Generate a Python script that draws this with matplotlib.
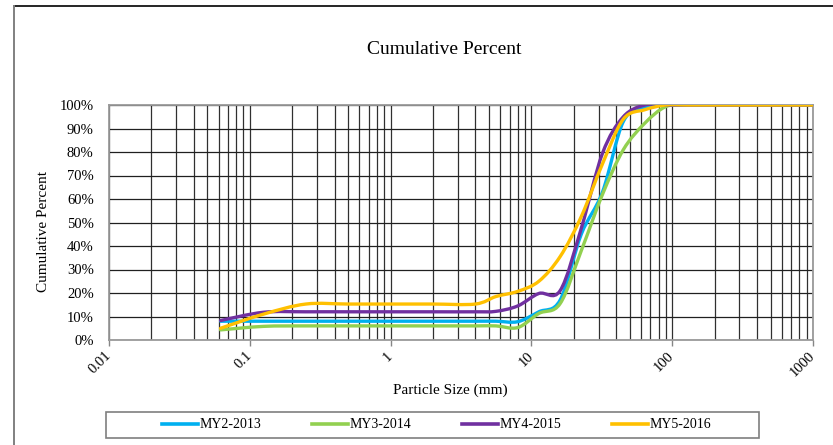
#!/usr/bin/env python3
# -*- coding: utf-8 -*-
"""
Cumulative percent vs particle size (pebble counts)
"""
import numpy as np
import matplotlib
matplotlib.use("Agg")
import matplotlib.pyplot as plt
from matplotlib.path import Path
from matplotlib.patches import PathPatch, Rectangle
from matplotlib.lines import Line2D
from matplotlib.ticker import LogLocator, FixedLocator, NullFormatter

plt.rc('font', family='Liberation Serif')

# particle sizes (mm)
sizes = [0.062, 0.125, 0.25, 0.5, 1, 2, 4, 5.6, 8, 11.3, 16, 22.6, 32, 45, 64,
         90, 128, 180, 256, 362, 512, 1024, 2048]

# cumulative percent
my2_2013 = [8, 8, 8, 8, 8, 8, 8, 8, 7.8, 12, 17, 45, 63, 93, 99,
            100, 100, 100, 100, 100, 100, 100, 100]
my3_2014 = [4.3, 5.8, 6, 6, 6, 6, 6, 6, 5.3, 11.3, 15.5, 38, 62, 81, 92.3,
            99.3, 100, 100, 100, 100, 100, 100, 100]
my4_2015 = [8.3, 11.8, 12, 12, 12, 12, 12, 12.2, 14.5, 19.8, 21, 47.5, 79.5, 95, 100,
            100, 100, 100, 100, 100, 100, 100, 100]
my5_2016 = [5, 11, 15.3, 15.3, 15.3, 15.3, 15.3, 18.5, 20.7, 25, 35.5, 52.5, 75, 94, 98,
            100, 100, 100, 100, 100, 100, 100, 100]

series = [
    ("MY2-2013", my2_2013, "#00B0F0"),
    ("MY3-2014", my3_2014, "#92D050"),
    ("MY4-2015", my4_2015, "#7030A0"),
    ("MY5-2016", my5_2016, "#FFC000"),
]


def smooth_path(x, y):
    """Excel-like smoothed line: cubic Bezier through the points (log-x space)."""
    lx = np.log10(np.asarray(x, float))
    y = np.asarray(y, float)
    P = np.column_stack([lx, y])
    n = len(P)
    verts = [P[0]]
    codes = [Path.MOVETO]
    for i in range(n - 1):
        p0 = P[max(i - 1, 0)]
        p1 = P[i]
        p2 = P[i + 1]
        p3 = P[min(i + 2, n - 1)]
        c1 = p1 + (p2 - p0) / 6.0
        c2 = p2 - (p3 - p1) / 6.0
        verts += [c1, c2, p2]
        codes += [Path.CURVE4] * 3
    verts = np.array(verts)
    verts[:, 0] = 10 ** verts[:, 0]
    return Path(verts, codes)


fig = plt.figure(figsize=(8.33, 4.45), dpi=100)
ax = fig.add_axes([109 / 833, 1 - 340 / 445, (813 - 109) / 833, (340 - 105) / 445])

ax.set_xscale('log')
ax.set_xlim(0.01, 1000)
ax.set_ylim(0, 100)

for name, vals, col in series:
    ax.add_patch(PathPatch(smooth_path(sizes, vals), facecolor='none', edgecolor=col,
                           lw=2.4, capstyle='round', joinstyle='round', zorder=3))

# grid
ax.xaxis.set_minor_locator(LogLocator(base=10, subs=np.arange(2, 10), numticks=10))
ax.xaxis.set_minor_formatter(NullFormatter())
ax.set_xticks([0.01, 0.1, 1, 10, 100, 1000])
ax.set_xticklabels(["0.01", "0.1", "1", "10", "100", "1000"], rotation=45,
                   ha='right', va='center', rotation_mode='anchor')
ax.yaxis.set_major_locator(FixedLocator(np.arange(0, 101, 10)))
ax.set_yticklabels(["{}%".format(v) for v in range(0, 101, 10)])
ax.grid(True, which='both', axis='x', color='#303030', lw=0.9, zorder=1)
ax.grid(True, which='major', axis='y', color='#202020', lw=0.9, zorder=1)

ax.tick_params(axis='x', which='major', length=4, color='#868686', width=1, pad=6, labelsize=10.5)
ax.tick_params(axis='x', which='minor', length=0)
ax.tick_params(axis='y', length=0, pad=11, labelsize=10.5)
for s in ax.spines.values():
    s.set_color('#9a9a9a')
    s.set_linewidth(1.3)

ax.set_xlabel("Particle Size (mm)", fontsize=11)
ax.xaxis.set_label_coords(0.485, -0.185)
ax.set_ylabel("Cumulative Percent", fontsize=11)
ax.yaxis.set_label_coords(-0.084, 0.46)

fig.text(444 / 833, 1 - 50 / 445, "Cumulative Percent", fontsize=14, ha='center', va='center')

# legend
handles = [Line2D([], [], color=c, lw=2.6) for _, _, c in series]
labels = [n for n, _, _ in series]
fig.legend(handles, labels, loc='center', bbox_to_anchor=(436.5 / 833, 1 - 425 / 445),
           ncol=4, frameon=False, fontsize=10, handlelength=2.6, handletextpad=0.15,
           columnspacing=3.6)
fig.patches.append(Rectangle((106 / 833, 1 - 438 / 445), (759 - 106) / 833, 26 / 445,
                             transform=fig.transFigure, fill=False, edgecolor='#7f7f7f', lw=1.2))

# outer chart border
fig.add_artist(Line2D([14 / 833, 1], [1 - 6 / 445, 1 - 6 / 445], transform=fig.transFigure,
                      color='black', lw=1.2))
fig.add_artist(Line2D([14 / 833, 14 / 833], [0, 1 - 6 / 445], transform=fig.transFigure,
                      color='#808080', lw=1.4))

fig.savefig("out.png", dpi=100)
